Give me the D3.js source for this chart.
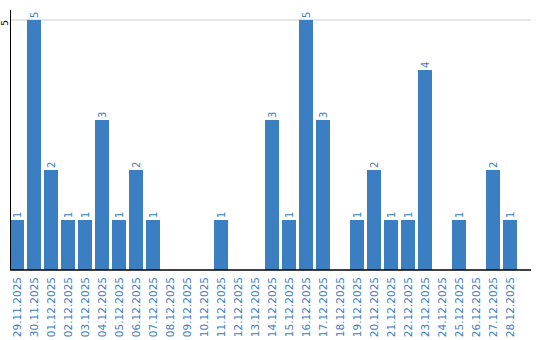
<!DOCTYPE html>
<html><head><meta charset="utf-8">
<script src="https://cdn.jsdelivr.net/npm/d3@7"></script>
<style>body{margin:0;background:#fff}svg{display:block}</style>
</head><body>
<script>
const categories = ["29.11.2025","30.11.2025","01.12.2025","02.12.2025","03.12.2025","04.12.2025","05.12.2025","06.12.2025","07.12.2025","08.12.2025","09.12.2025","10.12.2025","11.12.2025","12.12.2025","13.12.2025","14.12.2025","15.12.2025","16.12.2025","17.12.2025","18.12.2025","19.12.2025","20.12.2025","21.12.2025","22.12.2025","23.12.2025","24.12.2025","25.12.2025","26.12.2025","27.12.2025","28.12.2025"];
const values = [1,5,2,1,1,3,1,2,1,0,0,0,1,0,0,3,1,5,3,0,1,2,1,1,4,0,1,0,2,1];
const yTicks = [5];

const W = 540, H = 340;
const blue = "#3b7ec2";
const font = "DejaVu Sans, sans-serif";
const svg = d3.select("body").append("svg").attr("width", W).attr("height", H);

const x = d3.scaleBand().domain(categories).range([10, 517]).paddingInner(3/17).paddingOuter(0);
const y = d3.scaleLinear().domain([0, 5]).range([270, 20]);

// gridlines
svg.append("g").selectAll("line").data(yTicks).join("line")
  .attr("x1", 10).attr("x2", 531).attr("y1", d => y(d)).attr("y2", d => y(d))
  .attr("stroke", "#cccccc").attr("stroke-width", 1);

// bars
svg.append("g").selectAll("rect").data(values).join("rect")
  .attr("x", (d, i) => x(categories[i])).attr("width", x.bandwidth())
  .attr("y", d => y(d)).attr("height", d => y(0) - y(d))
  .attr("fill", blue);

// value labels
svg.append("g").selectAll("text").data(values.map((v, i) => ({v, c: categories[i]})).filter(d => d.v > 0)).join("text")
  .attr("transform", d => `translate(${x(d.c) + x.bandwidth()/2 + 4},${y(d.v) - 2}) rotate(-90)`)
  .attr("text-anchor", "start")
  .attr("font-family", font).attr("font-size", 10).attr("fill", blue)
  .text(d => d.v);

// x axis
const xAxis = svg.append("g").attr("transform", "translate(0,270)");
xAxis.append("line").attr("x1", 10).attr("x2", 531).attr("y1", 0).attr("y2", 0).attr("stroke", "#000").attr("stroke-width", 1.5);
xAxis.selectAll("text").data(categories).join("text")
  .attr("transform", d => `translate(${x(d) + x.bandwidth()/2 + 4},7) rotate(-90)`)
  .attr("text-anchor", "end")
  .attr("font-family", font).attr("font-size", 10.5).attr("fill", blue)
  .text(d => d);

// y axis
const yAxis = svg.append("g");
yAxis.append("line").attr("x1", 10.5).attr("x2", 10.5).attr("y1", 10).attr("y2", 270).attr("stroke", "#000").attr("stroke-width", 1);
yAxis.selectAll("text").data(yTicks).join("text")
  .attr("transform", d => `translate(8,${y(d)}) rotate(-90)`)
  .attr("text-anchor", "end")
  .attr("font-family", font).attr("font-size", 9).attr("fill", "#000")
  .text(d => d);
</script>
</body></html>
